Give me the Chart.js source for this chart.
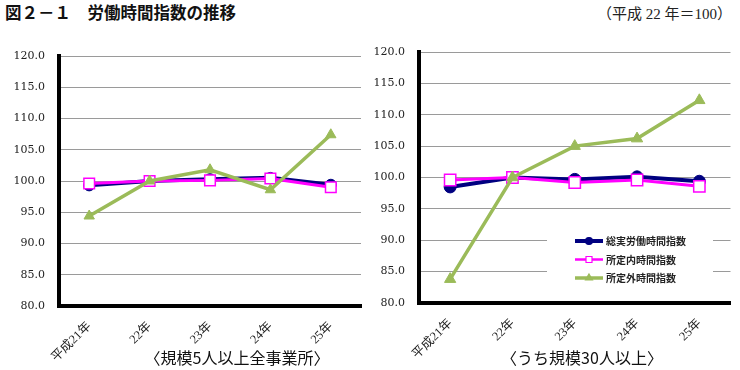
<!DOCTYPE html>
<html lang="ja">
<head>
<meta charset="utf-8">
<script src="https://cdn.jsdelivr.net/npm/chart.js@4.4.1/dist/chart.umd.min.js"></script>
<style>
  html, body { margin: 0; padding: 0; background: #fff; }
  #wrap { position: relative; width: 740px; height: 370px; overflow: hidden; }
  .title { position: absolute; left: 5px; top: 0px; font: bold 16.5px "Noto Sans CJK JP"; color: #111; white-space: nowrap; }
  .base { position: absolute; right: 8px; top: 2px; font: 15px "Liberation Serif", "Noto Sans CJK JP"; color: #222; white-space: nowrap; }
  .sub { position: absolute; top: 345px; font: 16px "Noto Sans CJK JP"; color: #111; transform: translateX(-50%); white-space: nowrap; }
  canvas { position: absolute; }
</style>
</head>
<body>
<div id="wrap">
  <div class="title">図２－１　労働時間指数の推移</div>
  <div class="base">（平成 22 年＝100）</div>
  <canvas id="left" width="370" height="320" style="left:0;top:40px"></canvas>
  <canvas id="right" width="370" height="320" style="left:370px;top:40px"></canvas>
  <div class="sub" style="left:237px">〈規模5人以上全事業所〉</div>
  <div class="sub" style="left:582px">〈うち規模30人以上〉</div>
</div>
<script>
// 横軸と系列名
const years = ['平成21年', '22年', '23年', '24年', '25年'];
const seriesNames = ['総実労働時間指数', '所定内時間指数', '所定外時間指数'];

// 縦軸
const yMin = 80;
const yMax = 120;
const yStep = 5;

// 規模5人以上全事業所
const allTotal     = [99.3, 100.0, 100.3, 100.5, 99.4];
const allScheduled = [99.6, 100.0, 100.1, 100.4, 99.0];
const allOvertime  = [94.4, 100.0, 101.8, 98.6, 107.4];

// うち規模30人以上
const bigTotal     = [98.5, 100.0, 99.7, 100.1, 99.4];
const bigScheduled = [99.6, 100.0, 99.2, 99.6, 98.6];
const bigOvertime  = [83.8, 100.0, 105.0, 106.2, 112.3];

const NAVY = '#000080';
const MAGENTA = '#FF00FF';
const GREEN = '#9BBB59';

// グラフ内の凡例（右のグラフのみ）
const insideLegend = {
    id: 'insideLegend',
    beforeDatasetsDraw(chart, args, opts) {
        if (!opts.show) return;
        const ctx = chart.ctx;
        ctx.save();
        ctx.fillStyle = '#fff';
        ctx.fillRect(opts.x, opts.y, opts.w, opts.h);
        ctx.font = 'bold 10px "Noto Sans CJK JP"';
        ctx.textBaseline = 'middle';
        const items = [
            { color: NAVY, width: 4, style: 'circle', fill: NAVY },
            { color: MAGENTA, width: 2.5, style: 'rect', fill: '#fff' },
            { color: GREEN, width: 3.5, style: 'triangle', fill: GREEN },
        ];
        items.forEach((it, i) => {
            const y = opts.rowY + i * opts.rowGap;
            ctx.strokeStyle = it.color;
            ctx.lineWidth = it.width;
            ctx.beginPath();
            ctx.moveTo(opts.lineX, y);
            ctx.lineTo(opts.lineX + 28, y);
            ctx.stroke();
            const mx = opts.lineX + 14;
            ctx.fillStyle = it.fill;
            ctx.lineWidth = 1.2;
            ctx.beginPath();
            if (it.style === 'circle') ctx.arc(mx, y, 3.5, 0, Math.PI * 2);
            else if (it.style === 'rect') ctx.rect(mx - 3, y - 3, 6, 6);
            else { ctx.moveTo(mx, y - 4); ctx.lineTo(mx + 3.5, y + 2); ctx.lineTo(mx - 3.5, y + 2); ctx.closePath(); }
            ctx.fill();
            ctx.stroke();
            ctx.fillStyle = '#222';
            ctx.fillText(seriesNames[i], opts.lineX + 31, y + 0.5);
        });
        ctx.restore();
    }
};

function makeChart(id, total, scheduled, overtime, g, legendOpts) {
    return new Chart(document.getElementById(id), {
        type: 'line',
        data: {
            labels: years,
            datasets: [
                {
                    label: seriesNames[0], data: total, order: 3,
                    borderColor: NAVY, backgroundColor: NAVY, borderWidth: 4,
                    pointStyle: 'circle', pointRadius: g.r, pointBackgroundColor: NAVY,
                    pointBorderColor: NAVY, pointBorderWidth: 1,
                },
                {
                    label: seriesNames[1], data: scheduled, order: 2,
                    borderColor: MAGENTA, backgroundColor: '#fff', borderWidth: 3,
                    pointStyle: 'rect', pointRadius: g.r + 2, pointBackgroundColor: '#fff',
                    pointBorderColor: MAGENTA, pointBorderWidth: 1.5,
                },
                {
                    label: seriesNames[2], data: overtime, order: 1,
                    borderColor: GREEN, backgroundColor: GREEN, borderWidth: 3.5,
                    pointStyle: 'triangle', pointRadius: g.r + 0.5, pointBackgroundColor: GREEN,
                    pointBorderColor: GREEN, pointBorderWidth: 1,
                },
            ],
        },
        options: {
            responsive: false,
            animation: false,
            devicePixelRatio: 1,
            layout: { padding: { top: g.padTop, right: g.padRight, left: 0, bottom: 0 } },
            plugins: {
                legend: { display: false },
                tooltip: { enabled: false },
                insideLegend: legendOpts,
            },
            scales: {
                x: {
                    offset: true,
                    afterFit: (s) => {
                        s.height = g.xHeight;
                        s.paddingLeft = 0; s.paddingRight = 0;
                    },
                    grid: { display: false },
                    border: { display: true, color: '#000', width: 4 },
                    ticks: {
                        minRotation: 45, maxRotation: 45, autoSkip: false, padding: 5,
                        color: '#222',
                        font: { family: '"Liberation Serif", "Noto Sans CJK JP"', size: 12.5 },
                    },
                },
                y: {
                    min: yMin, max: yMax,
                    afterFit: (s) => {
                        s.width = g.yWidth;
                        s.paddingTop = 0; s.paddingBottom = 0;
                    },
                    grid: { color: '#9a9a9a', lineWidth: 1, drawTicks: false },
                    border: { display: true, color: '#000', width: 4 },
                    ticks: {
                        stepSize: yStep, padding: 14, color: '#222',
                        font: { family: '"DejaVu Serif"', size: 11 },
                        callback: (v) => v.toFixed(1),
                    },
                },
            },
        },
        plugins: [insideLegend],
    });
}

makeChart('left', allTotal, allScheduled, allOvertime,
    { yWidth: 59, xHeight: 54, padTop: 16, padRight: 8, r: 5.5 },
    { show: false });

makeChart('right', bigTotal, bigScheduled, bigOvertime,
    { yWidth: 49, xHeight: 57, padTop: 12, padRight: 7, r: 6 },
    { show: true, x: 177, y: 188, w: 166, h: 64, lineX: 205, rowY: 201, rowGap: 18.5 });
</script>
</body>
</html>
